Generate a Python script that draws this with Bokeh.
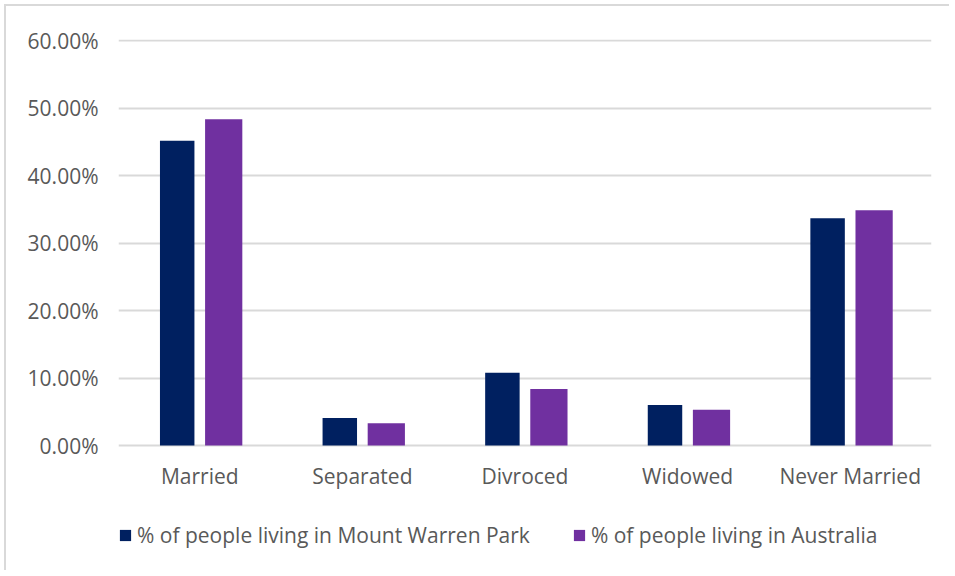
from bokeh.plotting import figure
from bokeh.models import Range1d, FixedTicker, NumeralTickFormatter, ColumnDataSource
from bokeh.transform import dodge
from bokeh.embed import file_html
from bokeh.resources import INLINE

categories = ["Married", "Separated", "Divroced", "Widowed", "Never Married"]
mount_warren_park = [0.452, 0.041, 0.108, 0.060, 0.337]
australia = [0.484, 0.033, 0.084, 0.053, 0.349]
y_ticks = [0.0, 0.1, 0.2, 0.3, 0.4, 0.5, 0.6]

series_labels = ["% of people living in Mount Warren Park", "% of people living in Australia"]
colors = ["#002060", "#7030A0"]

FONT = "Open Sans"
TXT = "#595959"

src = ColumnDataSource(dict(cat=categories, mwp=mount_warren_park, aus=australia))

p = figure(x_range=categories, y_range=Range1d(-0.1824, 0.6022),
           width=945, height=566, output_backend="svg", toolbar_location=None,
           min_border_left=112, min_border_right=20, min_border_top=33, min_border_bottom=4)
p.x_range.range_padding = 0
p.outline_line_color = None
p.background_fill_color = "white"
p.border_fill_color = "white"
p.styles = {"margin-left": "4px", "margin-top": "4px",
            "border-left": "2px solid #d9d9d9", "border-top": "2px solid #d9d9d9"}

p.vbar(x=dodge("cat", -0.139, range=p.x_range), top="mwp", width=0.212, source=src,
       fill_color=colors[0], line_color=None, legend_label=series_labels[0])
p.vbar(x=dodge("cat", 0.147, range=p.x_range), top="aus", width=0.229, source=src,
       fill_color=colors[1], line_color=None, legend_label=series_labels[1])

p.xgrid.grid_line_color = None
p.ygrid.grid_line_color = "#d9d9d9"
p.ygrid.grid_line_width = 2
p.yaxis.ticker = FixedTicker(ticks=y_ticks)
p.yaxis.formatter = NumeralTickFormatter(format="0.00%")

for ax in (p.xaxis[0], p.yaxis[0]):
    ax.axis_line_color = None
    ax.major_tick_line_color = None
    ax.minor_tick_line_color = None
    ax.major_tick_out = 0
    ax.major_tick_in = 0
    ax.major_label_text_font = FONT
    ax.major_label_text_font_size = "21px"
    ax.major_label_text_color = TXT
p.yaxis.major_label_standoff = 20
p.xaxis.major_label_standoff = 16
p.xaxis.fixed_location = 0

lg = p.legend[0]
lg.orientation = "horizontal"
lg.location = (0, 19)
lg.padding = 0
lg.margin = 0
lg.spacing = 42
lg.glyph_width = 14
lg.glyph_height = 14
lg.label_standoff = 5
lg.label_text_font = FONT
lg.label_text_font_size = "21px"
lg.label_text_color = TXT
lg.border_line_color = None
lg.background_fill_alpha = 0

open("out.html", "w").write(file_html(p, INLINE))
